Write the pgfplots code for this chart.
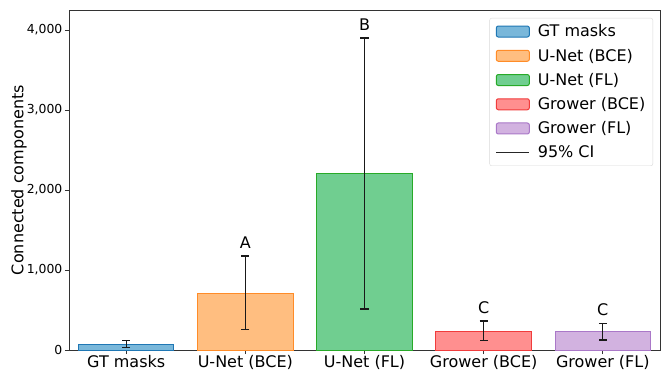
\documentclass[border=0pt]{standalone}
\usepackage{fontspec}
\setmainfont{DejaVu Sans}
\usepackage{pgfplots}
\pgfplotsset{compat=1.18}
\definecolor{bfill}{RGB}{121,183,218}
\definecolor{bedge}{RGB}{31,119,180}
\definecolor{ofill}{RGB}{255,190,128}
\definecolor{oedge}{RGB}{255,140,40}
\definecolor{gfill}{RGB}{112,206,144}
\definecolor{gedge}{RGB}{40,170,40}
\definecolor{rfill}{RGB}{255,143,143}
\definecolor{redge}{RGB}{240,60,60}
\definecolor{pfill}{RGB}{210,178,224}
\definecolor{pedge}{RGB}{170,120,200}
\begin{document}
\begin{tikzpicture}
\pgfplotsset{
  barleg/.style={legend image code/.code={\draw[##1] (0pt,-5.5pt) rectangle (33pt,5.5pt); \path[draw=none,fill=none] (0pt,0pt) rectangle (40pt,0.1pt);}},
  myerr/.style={error bars/.cd, y dir=both, y explicit, error mark=|,
    error bar style={black!90, line width=1.1pt},
    error mark options={black!90, mark size=4pt, line width=1.1pt}},
}
\begin{axis}[
  at={(0pt,0pt)}, anchor=south west,
  scale only axis, width=591pt, height=340pt,
  xmin=-0.48, xmax=4.48, ymin=0, ymax=4250,
  xtick={0,1,2,3,4},
  xticklabels={GT masks, U-Net (BCE), U-Net (FL), Grower (BCE), Grower (FL)},
  ytick={0,1000,2000,3000,4000},
  scaled y ticks=false,
  /pgf/number format/.cd, 1000 sep={,}, assume math mode=true, /pgfplots/.cd,
  xtick pos=bottom, ytick pos=left,
  tick align=outside, major tick length=4pt,
  tick style={black!80, line width=0.8pt},
  axis line style={black!80, line width=0.9pt},
  x tick label style={font=\fontsize{16}{19}\selectfont, inner sep=0pt, yshift=-1pt},
  y tick label style={font=\fontsize{12.4}{15}\selectfont, inner xsep=2.5pt},
  ylabel={Connected components},
  ylabel style={font=\fontsize{16}{19}\selectfont, yshift=-6pt},
  legend cell align=left,
  legend style={at={(rel axis cs:1,1)}, anchor=north east, xshift=-7pt, yshift=-8pt,
    font=\fontsize{16}{19}\selectfont, draw=black!15, rounded corners=2pt,
    row sep=7.6pt, inner xsep=6pt, inner ysep=5pt,
    nodes={inner sep=1.5pt}},
]
\addplot[ybar, bar width=0.8, bar shift=0pt, fill=bfill, draw=bedge, line width=1pt, barleg, myerr]
  coordinates {(0,75) += (0,42) -= (0,45)};
\addlegendentry{GT masks}
\addplot[ybar, bar width=0.8, bar shift=0pt, fill=ofill, draw=oedge, line width=1pt, barleg, myerr]
  coordinates {(1,712) += (0,463) -= (0,452)};
\addlegendentry{U-Net (BCE)}
\addplot[ybar, bar width=0.8, bar shift=0pt, fill=gfill, draw=gedge, line width=1pt, barleg, myerr]
  coordinates {(2,2200) += (0,1700) -= (0,1688)};
\addlegendentry{U-Net (FL)}
\addplot[ybar, bar width=0.8, bar shift=0pt, fill=rfill, draw=redge, line width=1pt, barleg, myerr]
  coordinates {(3,237) += (0,125) -= (0,120)};
\addlegendentry{Grower (BCE)}
\addplot[ybar, bar width=0.8, bar shift=0pt, fill=pfill, draw=pedge, line width=1pt, barleg, myerr]
  coordinates {(4,229) += (0,104) -= (0,104)};
\addlegendentry{Grower (FL)}
\addlegendimage{legend image code/.code={\draw[black!85, line width=1.3pt] (0pt,0pt) -- (33pt,0pt); \path[draw=none,fill=none] (0pt,0pt) rectangle (40pt,0.1pt);}}
\addlegendentry{95\% CI}
\node[anchor=south, inner sep=0pt, yshift=7pt, font=\fontsize{16}{19}\selectfont] at (axis cs:1,1175) {A};
\node[anchor=south, inner sep=0pt, yshift=7pt, font=\fontsize{16}{19}\selectfont] at (axis cs:2,3900) {B};
\node[anchor=south, inner sep=0pt, yshift=7pt, font=\fontsize{16}{19}\selectfont] at (axis cs:3,362) {C};
\node[anchor=south, inner sep=0pt, yshift=7pt, font=\fontsize{16}{19}\selectfont] at (axis cs:4,333) {C};
\end{axis}
\pgfresetboundingbox
\path (-69pt,-20pt) rectangle (593pt,350pt);
\end{tikzpicture}
\end{document}
